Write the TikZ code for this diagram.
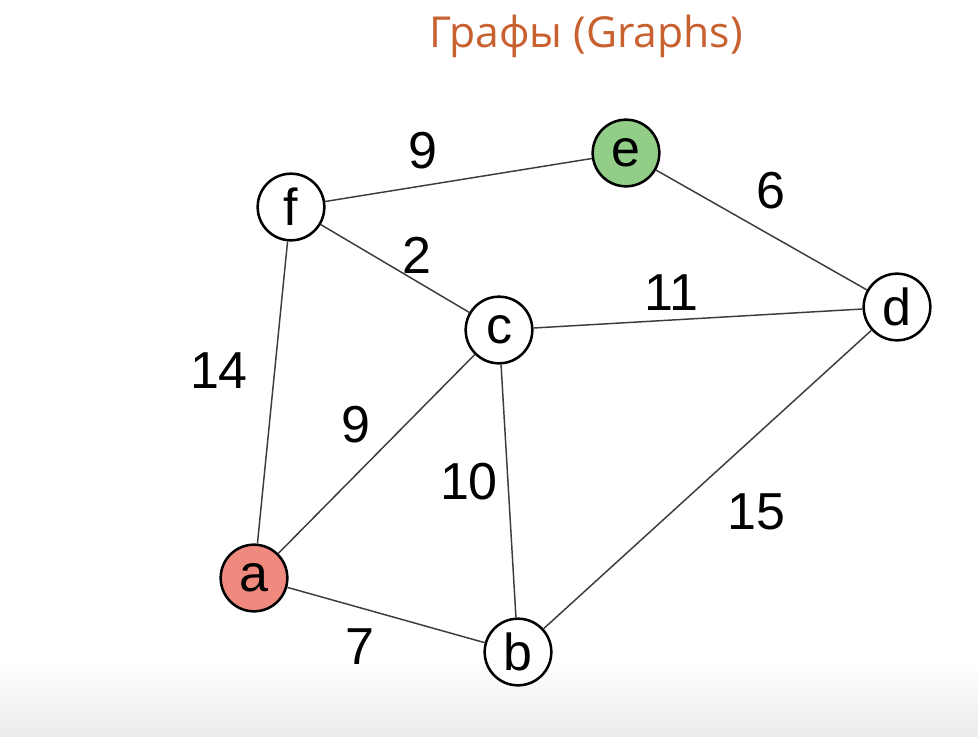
\documentclass[tikz,border=0pt]{standalone}
\usepackage{fontspec}
\setmainfont{Liberation Sans}
\newfontfamily\titlefont{Open Sans}
\usepackage{tikz}

\definecolor{titleorange}{RGB}{200,96,48}
\definecolor{nodegreen}{RGB}{147,206,137}
\definecolor{nodered}{RGB}{240,138,126}
\definecolor{edgegray}{RGB}{60,60,60}

\tikzset{
  vertex/.style={circle,draw=black,line width=1.9pt,fill=white,minimum size=50pt,inner sep=0pt,font=\fontsize{39}{39}\selectfont},
  weight/.style={inner sep=0.75pt,font=\fontsize{39}{39}\selectfont},
  edge/.style={draw=edgegray,line width=1.1pt}
}

\begin{document}
\begin{tikzpicture}[x=0.75pt,y=0.75pt,yscale=-1,xscale=1]
\useasboundingbox (0,0) rectangle (978,736);
\fill[white] (0,0) rectangle (978,736);
\shade[top color=white,bottom color=black!8] (0,660) rectangle (978,736);
% title
\node[anchor=base,text=titleorange,font=\titlefont\fontsize{32}{32}\selectfont] (title) at (586,47) {Графы (Graphs)};
% vertices
\node[vertex,fill=nodegreen] (e) at (626,153) {e};
\node[vertex] (f) at (291,207) {f};
\node[vertex] (c) at (499,330) {c};
\node[vertex] (d) at (897,307) {d};
\node[vertex,fill=nodered] (a) at (254,578) {a};
\node[vertex] (b) at (518,652) {b};
% edges
\draw[edge] (f) -- (e);
\draw[edge] (e) -- (d);
\draw[edge] (f) -- (c);
\draw[edge] (c) -- (d);
\draw[edge] (f) -- (a);
\draw[edge] (a) -- (c);
\draw[edge] (c) -- (b);
\draw[edge] (b) -- (d);
\draw[edge] (a) -- (b);
% weights
\node[weight] (wfe) at (423,151) {9};
\node[weight] (wed) at (771,191) {6};
\node[weight] (wfc) at (417,255) {2};
\node[weight] (wcd) at (671,293) {11};
\node[weight] (wfa) at (219,371) {14};
\node[weight] (wac) at (356,425) {9};
\node[weight] (wcb) at (469,482) {10};
\node[weight] (wbd) at (756,512) {15};
\node[weight] (wab) at (360,647) {7};
\end{tikzpicture}
\end{document}
